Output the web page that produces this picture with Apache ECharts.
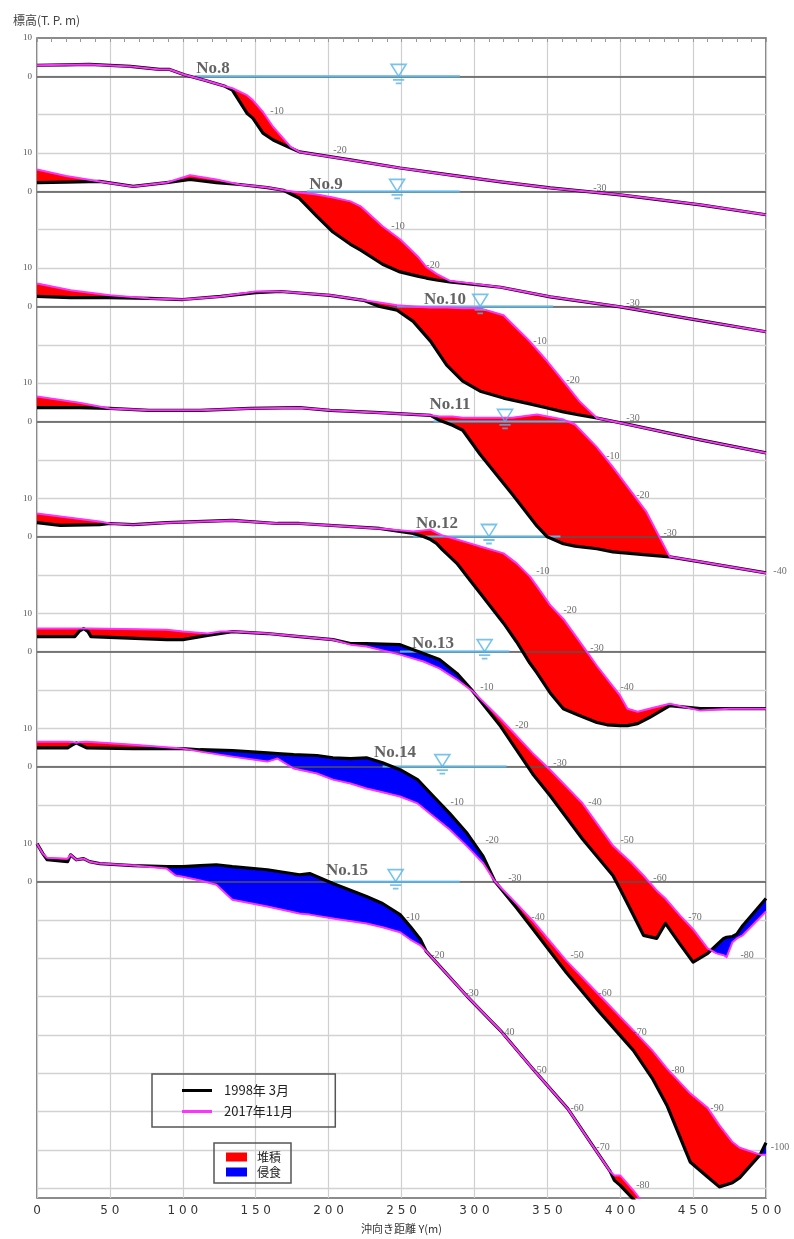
<!DOCTYPE html>
<html><head><meta charset="utf-8">
<script src="https://cdn.jsdelivr.net/npm/echarts@6/dist/echarts.min.js"></script>
<style>html,body{margin:0;padding:0;background:#fff}#c{width:794px;height:1239px}</style>
</head><body><div id="c"></div>
<script>
// ---------------- DATA ----------------
const profileNames = ['No.8','No.9','No.10','No.11','No.12','No.13','No.14','No.15'];
const PROFILE_STEP = 30; // vertical offset between profiles (m)
const depthLevels = [-10,-20,-30,-40,-50,-60,-70,-80,-90,-100];
const xTicks = [0,50,100,150,200,250,300,350,400,450,500];

const no8X     = [0,19,36,64,84,91,101,115,129,134,144,148,155,162,174,180,215,249,283,318,352,400,455,500];
const no8Y1998 = [2.9,3.0,3.1,2.6,1.8,1.8,0.4,-1.0,-2.6,-3.6,-9.6,-10.9,-14.8,-16.6,-18.7,-19.7,-21.8,-23.9,-25.7,-27.5,-29.1,-30.9,-33.5,-36.1];
const no8Y2017 = [2.9,3.0,3.1,2.6,1.8,1.8,0.4,-1.0,-2.6,-3.1,-4.9,-6.2,-9.3,-13.2,-18.4,-19.7,-21.8,-23.9,-25.7,-27.5,-29.1,-30.9,-33.5,-36.1];
const no8DepthLabelX = [164.6,207.8,386.1];

const no9X     = [0,20,43,66,89,105,123,139,158,169,180,192,203,215,222,237,249,261,267,274,283,318,352,400,455,500];
const no9Y1998 = [2.3,2.4,2.6,1.3,2.3,3.1,2.3,1.8,1.0,0.3,-1.8,-6.5,-10.6,-13.8,-15.3,-19.0,-21.0,-22.1,-22.6,-23.1,-23.6,-25.0,-27.5,-30.1,-33.7,-36.6];
const no9Y2017 = [5.7,4.0,2.6,1.3,2.3,4.2,3.1,1.8,1.0,0.3,-0.3,-0.8,-1.6,-2.6,-3.9,-9.1,-12.5,-16.9,-19.7,-21.5,-23.3,-25.0,-27.5,-30.1,-33.7,-36.6];
const no9DepthLabelX = [247.6,271.6,408.8];

const no10X     = [0,23,50,77,100,126,150,167,201,224,235,247,258,270,281,292,304,320,338,350,361,372,384,407,455,500];
const no10Y1998 = [2.6,2.3,2.3,2.1,1.8,2.6,3.6,3.9,2.9,1.6,0.0,-1.0,-3.9,-9.1,-15.3,-19.5,-22.1,-23.9,-25.4,-26.5,-27.5,-28.3,-29.1,-30.9,-34.8,-38.2];
const no10Y2017 = [6.0,4.2,2.9,2.1,1.8,2.6,3.9,3.9,2.9,1.6,1.0,0.3,0.0,-0.3,-0.3,-0.5,-0.5,-2.3,-9.1,-14.3,-19.5,-24.7,-29.1,-30.9,-34.8,-38.2];
const no10DepthLabelX = [345.0,367.6,408.8];

const no11X     = [0,29,50,77,112,146,180,201,235,270,276,285,292,304,326,343,350,361,369,384,395,418,434,455,500];
const no11Y1998 = [3.6,3.6,3.4,2.9,2.9,3.4,3.6,2.9,2.3,1.6,0.3,-1.0,-2.3,-8.6,-19.0,-27.3,-30.1,-31.9,-32.5,-33.2,-34.0,-34.8,-35.3,-36.6,-39.5];
const no11Y2017 = [6.5,4.9,3.4,2.9,2.9,3.4,3.6,2.9,2.3,1.6,1.3,1.3,1.0,1.0,1.0,1.8,1.3,0.5,-0.8,-6.7,-11.9,-23.6,-35.3,-36.6,-39.5];
const no11DepthLabelX = [395.0,415.6,434.2,509.6];

const no12X     = [0,16,43,50,66,89,134,165,180,235,258,265,270,274,278,288,297,304,320,329,338,343,352,361,372,384,391,400,405,412,420,434,455,475,500];
const no12Y1998 = [3.6,2.9,3.1,3.4,3.1,3.6,4.2,3.4,3.4,2.1,0.8,0.0,-0.8,-1.8,-3.4,-7.0,-11.4,-14.8,-22.6,-27.5,-33.0,-35.6,-40.8,-44.9,-46.7,-48.5,-49.1,-49.3,-49.3,-48.8,-47.2,-44.1,-44.9,-44.9,-44.9];
const no12Y2017 = [6.0,5.2,3.9,3.4,3.1,3.6,4.2,3.4,3.4,2.1,1.3,1.6,1.8,1.0,0.3,-0.8,-1.8,-2.6,-4.4,-7.0,-10.4,-13.0,-17.9,-21.5,-27.3,-33.7,-37.1,-41.5,-44.9,-45.7,-44.9,-43.6,-45.4,-44.9,-44.9];
const no12DepthLabelX = [347.0,365.6,384.1,404.7];

const no13X     = [0,21,26,29,32,35,37,89,100,117,126,134,158,180,203,215,226,249,265,276,288,299,318,340,352,374,395,400,407,416,425,431,441,450,460,466,471,473,477,480,484,500];
const no13Y1998 = [3.9,3.9,3.9,5.3,6.0,5.2,3.9,3.1,3.1,4.2,4.7,5.2,4.7,3.9,3.1,2.1,2.1,1.8,-0.5,-2.1,-5.7,-10.4,-19.5,-31.9,-37.6,-48.8,-58.4,-62.0,-67.2,-74.0,-74.8,-70.9,-76.3,-81.0,-78.7,-76.6,-74.8,-74.5,-74.3,-73.7,-71.5,-64.4];
const no13Y2017 = [6.0,6.0,6.0,6.0,6.0,6.0,6.0,5.7,5.2,4.7,5.2,5.2,4.7,3.9,3.1,1.8,1.3,-0.8,-2.6,-4.4,-7.3,-10.4,-17.6,-26.5,-30.9,-39.5,-50.6,-52.4,-54.8,-58.4,-62.3,-64.4,-68.8,-72.4,-77.4,-78.7,-79.2,-79.7,-75.8,-74.8,-74.0,-67.8];
const no13DepthLabelX = [308.6,332.6,358.7,382.7,404.7,427.3,451.3,487.0];

const no14X     = [0,21,24,27,30,34,66,100,112,134,158,165,176,192,203,215,226,237,249,261,272,283,295,306,314,329,340,363,386,409,422,432,448,460,468,477,482,496,500];
const no14Y1998 = [4.9,4.9,5.6,6.2,5.6,4.9,4.7,4.7,4.4,4.2,3.6,3.4,3.1,2.9,2.3,2.1,2.3,1.0,-0.8,-3.4,-7.8,-12.2,-17.4,-23.4,-29.9,-36.9,-42.3,-53.7,-64.1,-74.0,-81.3,-88.3,-103.1,-107.0,-109.6,-108.5,-107.2,-101.2,-98.1];
const no14Y2017 = [6.5,6.5,6.4,6.2,6.4,6.5,5.7,4.7,3.9,2.6,1.3,2.1,-0.5,-1.8,-3.4,-4.4,-5.7,-6.7,-7.8,-9.6,-13.0,-16.4,-20.8,-25.2,-29.9,-35.8,-40.2,-50.6,-59.7,-68.8,-74.0,-78.7,-85.2,-89.0,-93.5,-97.9,-99.4,-101.2,-101.2];
const no14DepthLabelX = [288.1,312.1,327.8,343.6,370.4,389.6,413.6,439.6,466.4,509.6];

const no15X     = [0,4,7,21,23,27,32,36,43,66,89,95,100,112,123,134,158,180,187,203,226,237,249,256,263,267,295,318,340,364,381,393,396,400,409,414];
const no15Y1998 = [9.9,7.3,5.7,5.2,7.0,5.7,6.0,5.2,4.7,4.2,3.9,3.9,3.9,4.2,4.4,3.9,3.1,1.8,2.1,-0.5,-3.9,-5.7,-8.6,-11.7,-15.1,-18.2,-29.9,-38.9,-48.8,-59.2,-68.8,-75.5,-77.9,-79.2,-82.8,-85.0];
const no15Y2017 = [9.9,7.3,6.2,6.0,7.0,5.7,6.0,5.2,4.7,4.2,3.4,1.6,1.3,0.3,-0.8,-4.7,-6.5,-8.3,-8.6,-9.6,-10.9,-11.9,-13.2,-15.1,-16.6,-18.2,-29.9,-38.9,-48.8,-59.2,-68.8,-75.5,-76.6,-76.6,-80.5,-83.0];
const no15DepthLabelX = [257.9,275.0,298.4,323.0,345.0,370.4,388.2,415.6];

// water level (T.P. 0 m) marks: line extent and symbol position, per profile (m)
const waterStartX = [108,185,247,272,258,249,237,203];
const waterEndX   = [290,290,354,366,359,324,322,290];
const waterMarkX  = [248,247,304,321,310,307,278,246];
// profile name label anchor (distance m, elevation m)
const nameLabelX    = [120.7,198.2,279.8,283.3,274.3,271.6,245.5,212.6];
const nameLabelElev = [2.1,1.7,1.8,4.3,3.4,2.0,3.7,2.8];

const legendLines = ['1998年 3月','2017年11月'];
const legendFills = ['堆積','侵食'];

// ---------------- BUILD ----------------
const profiles = [
  {x:no8X,  a:no8Y1998,  b:no8Y2017,  d:no8DepthLabelX},
  {x:no9X,  a:no9Y1998,  b:no9Y2017,  d:no9DepthLabelX},
  {x:no10X, a:no10Y1998, b:no10Y2017, d:no10DepthLabelX},
  {x:no11X, a:no11Y1998, b:no11Y2017, d:no11DepthLabelX},
  {x:no12X, a:no12Y1998, b:no12Y2017, d:no12DepthLabelX},
  {x:no13X, a:no13Y1998, b:no13Y2017, d:no13DepthLabelX},
  {x:no14X, a:no14Y1998, b:no14Y2017, d:no14DepthLabelX},
  {x:no15X, a:no15Y1998, b:no15Y2017, d:no15DepthLabelX}
];

const redPolys = [], bluePolys = [];
function buildFill(xs, a, b, off) {
  let cur = null, prevD = 0;
  const close = () => {
    if (cur && cur.s !== 0 && cur.U.length > 1) {
      const poly = cur.U.concat(cur.L.slice().reverse());
      (cur.s > 0 ? redPolys : bluePolys).push(poly);
    }
  };
  for (let i = 0; i < xs.length; i++) {
    const x = xs[i], A = a[i] + off, B = b[i] + off, d = b[i] - a[i];
    const s = d > 0 ? 1 : (d < 0 ? -1 : 0);
    if (!cur) { cur = {s, U:[[x,B]], L:[[x,A]]}; prevD = d; continue; }
    if (prevD * d < 0) {
      const x0 = xs[i-1], A0 = a[i-1] + off;
      const t = prevD / (prevD - d);
      const c = [x0 + t*(x - x0), A0 + t*(A - A0)];
      cur.U.push(c); cur.L.push(c); close();
      cur = {s, U:[c], L:[c]};
    }
    cur.U.push([x,B]); cur.L.push([x,A]);
    if (cur.s === 0) cur.s = s;
    if (s === 0) { close(); cur = {s:0, U:[[x,B]], L:[[x,A]]}; }
    prevD = d;
  }
  close();
}
profiles.forEach((p,k) => buildFill(p.x, p.a, p.b, -PROFILE_STEP*k));

const series = [];
// grid lines (every 10 m)
const gridLevels = [];
for (let v = 0; v >= -290; v -= 10) gridLevels.push(v);
series.push({type:'line', name:'grid', data:[], silent:true, z:1,
  markLine:{silent:true, symbol:'none', z:1, animation:false, label:{show:false},
    lineStyle:{color:'#d2d2d2', width:1.3, type:'solid'},
    data: gridLevels.map(v => ({yAxis:v}))}});

function polyRender(list, color) {
  return function(params, api) {
    const poly = list[params.dataIndex];
    return {type:'polygon', shape:{points: poly.map(p => api.coord(p))},
      style:{fill:color, stroke:color, lineWidth:0.6}};
  };
}
series.push({type:'custom', name:legendFills[0], z:2, clip:true, silent:true,
  itemStyle:{color:'#ff0000'}, renderItem: polyRender(redPolys,'#ff0000'),
  data: redPolys.map((p,i) => [p[0][0], p[0][1], i])});
series.push({type:'custom', name:legendFills[1], z:2, clip:true, silent:true,
  itemStyle:{color:'#0000ff'}, renderItem: polyRender(bluePolys,'#0000ff'),
  data: bluePolys.map((p,i) => [p[0][0], p[0][1], i])});

// zero (T.P.0) lines for each profile
series.push({type:'line', name:'zero', data:[], silent:true, z:3,
  markLine:{silent:true, symbol:'none', z:3, animation:false, label:{show:false},
    lineStyle:{color:'#555', width:1.6, type:'solid'},
    data: profileNames.map((n,k) => ({yAxis: -PROFILE_STEP*k}))}});

// water lines
profileNames.forEach((n,k) => {
  series.push({type:'line', name:'water'+k, silent:true, z:4, symbol:'none',
    lineStyle:{color:'#5ab6e6', width:2},
    data:[[waterStartX[k], -PROFILE_STEP*k],[waterEndX[k], -PROFILE_STEP*k]]});
});

// profile lines
profiles.forEach((p,k) => {
  const off = -PROFILE_STEP*k;
  series.push({type:'line', name:legendLines[0], z:5, symbol:'none', silent:true,
    color:'#000000', lineStyle:{color:'#000000', width:3.2, join:'round'},
    data: p.x.map((x,i) => [x, p.a[i] + off])});
  series.push({type:'line', name:legendLines[1], z:6, symbol:'none', silent:true,
    color:'#ff33ff', lineStyle:{color:'#ff33ff', width:2, join:'round'},
    data: p.x.map((x,i) => [x, p.b[i] + off])});
});

// water level symbols
series.push({type:'scatter', name:'wmark', z:7, silent:true, clip:false,
  symbol:'path://M0,0 L16,0 L8,12 Z M2,15.5 L14,15.5 M5,19 L11,19',
  symbolSize:[15,19], symbolOffset:[0,-2.5],
  itemStyle:{color:'rgba(255,255,255,0)', borderColor:'#55b4e6', borderWidth:1.6},
  data: waterMarkX.map((x,k) => [x, -PROFILE_STEP*k])});

// depth labels
const depthData = [];
profiles.forEach((p,k) => {
  p.d.forEach((x,j) => depthData.push([x, depthLevels[j] - PROFILE_STEP*k, String(depthLevels[j])]));
});
series.push({type:'scatter', name:'dlab', z:8, silent:true, clip:false, symbolSize:1,
  itemStyle:{color:'rgba(0,0,0,0)'},
  label:{show:true, position:'inside', offset:[0,-3], formatter: p => p.data[2],
    fontSize:10, color:'#4a4a4a', fontFamily:'Liberation Serif'},
  data: depthData});

// profile names
series.push({type:'scatter', name:'nlab', z:8, silent:true, clip:false, symbolSize:1,
  itemStyle:{color:'rgba(0,0,0,0)'},
  label:{show:true, position:'inside', formatter: p => p.data[2],
    fontSize:17, fontWeight:'bold', color:'#3c3c3c', fontFamily:'Liberation Serif'},
  data: profileNames.map((n,k) => [nameLabelX[k], nameLabelElev[k] - PROFILE_STEP*k, n])});

const yLabelValues = [];
profileNames.forEach((n,k) => { yLabelValues.push(10 - PROFILE_STEP*k, -PROFILE_STEP*k); });

const option = {
  animation:false,
  textStyle:{fontFamily:"'Noto Sans CJK JP', 'DejaVu Sans', sans-serif"},
  title:{text:'標高(T. P. m)', left:8, top:9,
    textStyle:{fontSize:12, fontWeight:'normal', color:'#444'}},
  legend:[
    {data:legendLines, left:152, top:1074, orient:'vertical', icon:'rect',
     itemWidth:30, itemHeight:3, itemGap:8, selectedMode:false,
     padding:[10,42,9,30], borderColor:'#555', borderWidth:1.5,
     textStyle:{fontSize:13, color:'#222', padding:[0,0,0,7]}},
    {data:legendFills, left:214, top:1143, orient:'vertical', icon:'rect',
     itemWidth:21, itemHeight:9, itemGap:3, selectedMode:false,
     padding:[8,10,5,12], borderColor:'#555', borderWidth:1.5,
     textStyle:{fontSize:12, color:'#222', padding:[0,0,0,5]}}
  ],
  grid:{left:37, right:28, top:38, bottom:36, show:true, borderColor:'#666', borderWidth:1.6},
  xAxis:[
    {type:'value', min:0, max:500, interval:50, position:'bottom',
     axisLine:{show:false}, axisTick:{show:false},
     splitLine:{show:true, lineStyle:{color:'#cfcfcf', width:1.2}},
     axisLabel:{customValues:xTicks, formatter: v => String(v).split('').join(' '),
       fontSize:12, color:'#333', margin:7, fontFamily:'DejaVu Sans'},
     name:'沖向き距離 Y(m)', nameLocation:'middle', nameGap:25,
     nameTextStyle:{fontSize:11, color:'#333'}},
    {type:'value', min:0, max:500, interval:10, position:'top',
     axisLine:{show:false}, axisLabel:{show:false}, splitLine:{show:false},
     axisTick:{show:true, inside:true, length:4, lineStyle:{color:'#999'}}}
  ],
  yAxis:{type:'value', min:-292.5, max:10,
    axisLine:{show:false}, axisTick:{show:false}, splitLine:{show:false},
    axisLabel:{customValues:yLabelValues, margin:5, fontSize:9, color:'#555', fontFamily:'Liberation Serif',
      formatter: v => { const r = Math.round(((v % PROFILE_STEP) + PROFILE_STEP) % PROFILE_STEP); return r === 10 ? '10' : '0'; }}},
  series: series
};
const chart = echarts.init(document.getElementById('c'));
chart.setOption(option);
</script>
</body></html>
